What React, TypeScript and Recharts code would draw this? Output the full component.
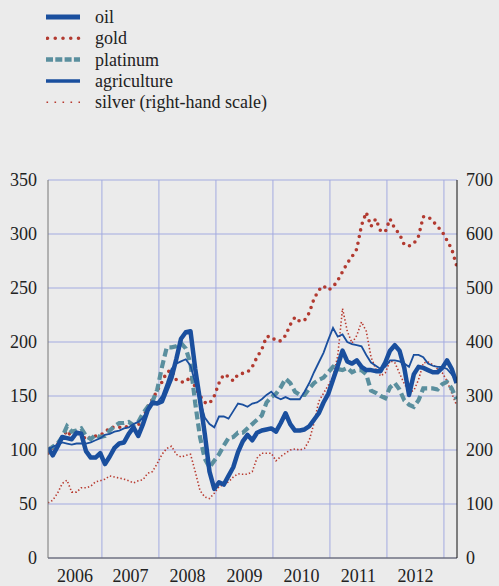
import React from 'react';
import { LineChart, Line, XAxis, YAxis, CartesianGrid, Legend, ReferenceLine } from 'recharts';

// Monthly observations, Jan 2006 – Mar 2013 (index 0 = Jan 2006)
const oil = [102,95,103,112,111,110,116,115,99,93,93,97, 87,94,102,106,107,115,121,113,124,137,144,143, 145,156,167,184,203,209,210,175,146,115,80,64, 70,68,76,84,98,108,114,109,116,118,119,120, 117,125,134,124,118,118,119,122,128,134,144,152, 165,178,192,182,180,183,177,174,174,173,173,181, 192,197,192,176,151,170,177,176,174,172,172,176, 183,175,162];
const gold = [97,102,105,111,118,112,114,116,109,112,113,114, 116,121,121,121,122,121,121,123,130,140,147,155, 163,172,174,165,163,163,168,158,150,144,143,150, 162,170,168,164,170,171,172,177,186,193,205,205, 201,201,206,216,223,219,220,227,240,248,252,248, 251,257,265,273,279,286,308,320,307,314,303,302, 314,305,300,290,289,291,298,316,316,312,307,302, 294,286,271];
const platinum = [100,103,106,112,122,117,118,120,113,110,114,112, 113,118,122,125,125,126,123,126,134,140,145,156, 177,195,195,196,199,194,180,143,112,92,84,90, 96,104,111,112,116,116,120,124,128,132,144,149, 152,158,166,162,154,151,151,157,162,165,167,172, 177,175,174,176,172,174,174,170,155,153,150,148, 158,162,156,146,142,140,146,157,157,157,156,161, 163,157,147];
const agriculture = [100,103,105,107,106,105,106,106,106,107,109,111, 114,115,117,118,120,121,124,126,130,137,143,144, 150,162,175,180,182,184,178,162,146,130,124,121, 131,131,129,136,143,142,140,143,144,147,151,154, 149,147,149,147,147,147,154,162,172,181,190,202, 213,205,207,200,198,197,196,188,181,178,175,177, 183,183,182,180,177,188,188,186,180,178,177,177, 175,170,164];
const silver = [102,107,120,138,144,122,122,130,130,133,141,143, 146,152,150,148,146,143,139,143,145,157,160,175, 192,203,207,192,187,190,192,160,125,113,110,120, 132,136,141,150,156,155,155,160,185,194,194,194, 180,188,194,200,202,200,203,218,250,290,305,320, 335,375,462,420,398,412,437,420,372,350,337,343, 365,362,342,323,307,310,330,361,363,358,350,343, 328,305,283];

const yearLabels = ['2006', '2007', '2008', '2009', '2010', '2011', '2012'];
const yearBoundaryTicks = [0, 11.35, 23.35, 35.35, 47.35, 59.35, 71.35, 83.35];
const yearCenterTicks = [5.7, 17.35, 29.35, 41.35, 53.35, 65.35, 77.35];
const leftTicks = [0, 50, 100, 150, 200, 250, 300, 350];
const rightTicks = [0, 100, 200, 300, 400, 500, 600, 700];

const data = oil.map((v, i) => ({
  t: i,
  oil: v,
  gold: gold[i],
  platinum: platinum[i],
  agriculture: agriculture[i],
  silver: silver[i],
}));

const OIL = '#1a4f9e';
const GOLD = '#b23a30';
const PLAT = '#5a8f9e';
const SILVER = '#b8392e';
const GRID = '#a3abe0';
const FONT = 'Liberation Serif, Tinos, DejaVu Serif, serif';

const legendOrder = ['oil', 'gold', 'platinum', 'agriculture', 'silver'];
const legendLook: Record<string, any> = {
  oil: { stroke: OIL, w: 5, dash: undefined, cap: 'butt', x1: 0, x2: 34 },
  gold: { stroke: GOLD, w: 3.6, dash: '0 7.75', cap: 'round', x1: 1.5, x2: 33 },
  platinum: { stroke: PLAT, w: 4.5, dash: '7 2.3', cap: 'butt', x1: 0, x2: 34 },
  agriculture: { stroke: OIL, w: 3.5, dash: undefined, cap: 'butt', x1: 0, x2: 34 },
  silver: { stroke: SILVER, w: 1.6, dash: '1.6 6.4', cap: 'butt', x1: 0.5, x2: 34 },
};

function renderLegend(props: any) {
  const payload = props.payload || [];
  const items = legendOrder
    .map((k) => payload.find((p: any) => p.dataKey === k))
    .filter(Boolean);
  return (
    <svg width={300} height={115} style={{ display: 'block' }}>
      {items.map((p: any, idx: number) => {
        const y = 17 + idx * 21.3;
        const s = legendLook[p.dataKey];
        return (
          <g key={p.dataKey}>
            <line x1={s.x1} x2={s.x2} y1={y} y2={y} stroke={s.stroke} strokeWidth={s.w}
              strokeDasharray={s.dash} strokeLinecap={s.cap} />
            <text x={49} y={y} dominantBaseline="central" fontFamily={FONT} fontSize={18} fill="#222">
              {p.value}
            </text>
          </g>
        );
      })}
    </svg>
  );
}

export default function App() {
  return (
    <div style={{ position: 'absolute', left: 0, top: 0, width: 499, height: 586, background: '#ebebeb', overflow: 'hidden', fontFamily: FONT }}>
      <LineChart width={499} height={586} data={data} margin={{ top: 180, right: 0, bottom: 0, left: 0 }}
        style={{ fontFamily: FONT }}>
        <CartesianGrid xAxisId="main" yAxisId="left" stroke={GRID} strokeWidth={1} vertical={false} />
        {yearBoundaryTicks.slice(1).map((t) => (
          <ReferenceLine key={t} xAxisId="main" yAxisId="left" x={t} stroke={GRID} strokeWidth={1} />
        ))}
        <XAxis xAxisId="main" dataKey="t" type="number" domain={[0, 86.1]} ticks={yearBoundaryTicks}
          tick={false} tickLine={{ stroke: '#222' }} tickSize={5} height={6} interval={0}
          axisLine={{ stroke: '#555' }} allowDataOverflow />
        <XAxis xAxisId="years" dataKey="t" type="number" domain={[0, 86.1]} ticks={yearCenterTicks}
          tickFormatter={(v: number) => yearLabels[yearCenterTicks.indexOf(v)] ?? ''}
          axisLine={false} tickLine={false} tickSize={0} tickMargin={5} height={22}
          tick={{ fontFamily: FONT, fontSize: 18, fill: '#222' }} allowDataOverflow interval={0} />
        <YAxis yAxisId="left" orientation="left" domain={[0, 350]} ticks={leftTicks} width={48}
          axisLine={{ stroke: '#777' }} tickLine={false} tickMargin={5} interval={0}
          tick={{ fontFamily: FONT, fontSize: 18, fill: '#222' }} />
        <YAxis yAxisId="right" orientation="right" domain={[0, 700]} ticks={rightTicks} width={42}
          axisLine={{ stroke: '#111' }} tickLine={false} tickMargin={3} interval={0}
          tick={{ fontFamily: FONT, fontSize: 18, fill: '#222', textAnchor: 'start' }} />
        <Legend layout="vertical" verticalAlign="middle" align="center" content={renderLegend}
          wrapperStyle={{ position: 'absolute', left: 46, top: 0, width: 300, height: 115 }} />
        <Line xAxisId="years" yAxisId="right" type="linear" dataKey="silver" name="silver (right-hand scale)"
          stroke={SILVER} strokeWidth={1.6} strokeDasharray="1.4 2.2" dot={false} isAnimationActive={false} />
        <Line xAxisId="main" yAxisId="left" type="linear" dataKey="gold" name="gold"
          stroke={GOLD} strokeWidth={3.6} strokeDasharray="0 6.8" strokeLinecap="round" dot={false} isAnimationActive={false} />
        <Line xAxisId="main" yAxisId="left" type="linear" dataKey="platinum" name="platinum"
          stroke={PLAT} strokeWidth={4.2} strokeDasharray="8 4" dot={false} isAnimationActive={false} />
        <Line xAxisId="main" yAxisId="left" type="linear" dataKey="agriculture" name="agriculture"
          stroke={OIL} strokeWidth={1.8} dot={false} isAnimationActive={false} />
        <Line xAxisId="main" yAxisId="left" type="linear" dataKey="oil" name="oil"
          stroke={OIL} strokeWidth={4.5} strokeLinejoin="round" dot={false} isAnimationActive={false} />
      </LineChart>
    </div>
  );
}
